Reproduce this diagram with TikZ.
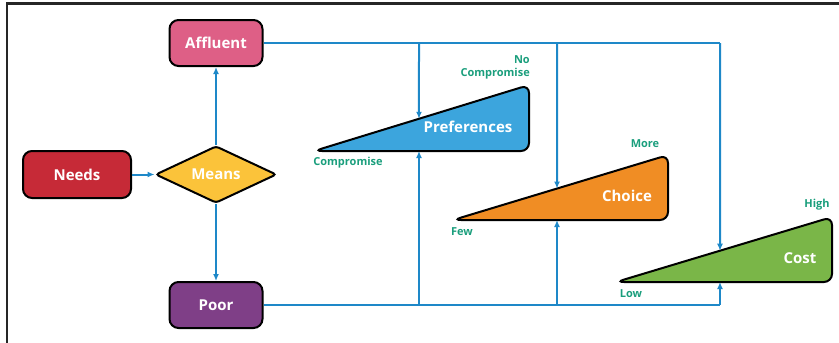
\documentclass[tikz,border=0pt]{standalone}
\usepackage{fontspec}
\setmainfont{Open Sans}
\usetikzlibrary{shapes.geometric,arrows.meta}
\definecolor{cNeeds}{HTML}{C62A37}
\definecolor{cAff}{HTML}{DE5F86}
\definecolor{cMeans}{HTML}{FBC33A}
\definecolor{cPoor}{HTML}{7F3F87}
\definecolor{cPref}{HTML}{3CA5DD}
\definecolor{cChoice}{HTML}{F08D24}
\definecolor{cCost}{HTML}{7AB648}
\definecolor{cLine}{HTML}{1E88C8}
\definecolor{cLab}{HTML}{1A9E7C}
\tikzset{
  box/.style={draw=black, line width=2pt, rounded corners=9pt, minimum width=93pt, minimum height=46pt, text=white, font=\fontsize{15}{17}\selectfont\bfseries, inner sep=0pt},
  wedge/.style={draw=black, line width=2pt, rounded corners=8pt},
  wtext/.style={text=white, font=\fontsize{15}{17}\selectfont\bfseries, inner sep=0pt},
  lab/.style={text=cLab, font=\fontsize{11}{12.5}\selectfont\bfseries, inner sep=0pt},
  conn/.style={draw=cLine, line width=2pt},
  arr/.style={conn, -{Latex[length=7pt,width=6pt]}},
}
\begin{document}
\begin{tikzpicture}[x=1pt,y=-1pt]
\useasboundingbox (0,0) rectangle (839,343);
\draw[line width=2.5pt, color=black!85] (7,343) -- (7,3.5) -- (839,3.5);
% nodes
\node[box, fill=cNeeds, minimum width=108pt, minimum height=47pt] (needs) at (77,174.5) {Needs};
\node[diamond, draw=black, line width=2pt, fill=cMeans, minimum width=121pt, minimum height=57pt, aspect=2.1, inner sep=0pt, rounded corners=3pt, text=white, font=\fontsize{15}{17}\selectfont\bfseries] (means) at (216,174.5) {Means};
\node[box, fill=cAff] (aff) at (216,43) {Affluent};
\node[box, fill=cPoor] (poor) at (216,305) {Poor};
% wedges
\coordinate (pT) at (314,151); \coordinate (pR) at (529,85); \coordinate (pB) at (529,151);
\coordinate (cT) at (453,220); \coordinate (cR) at (668,155); \coordinate (cB) at (668,220);
\coordinate (kT) at (616,282); \coordinate (kR) at (832,217); \coordinate (kB) at (832,282);
\draw[wedge, fill=cPref] (pT) -- (pR) -- (pB) -- cycle;
\draw[wedge, fill=cChoice] (cT) -- (cR) -- (cB) -- cycle;
\draw[wedge, fill=cCost] (kT) -- (kR) -- (kB) -- cycle;
\node[wtext] (prefl) at (468,127) {Preferences};
\node[wtext] (choicel) at (627,196) {Choice};
\node[wtext] (costl) at (800,258) {Cost};
% labels
\node[lab, align=right, anchor=south east] (nocomp) at (530,79) {No\\Compromise};
\node[lab] (comp) at (348,163) {Compromise};
\node[lab] (more) at (645,144) {More};
\node[lab] (few) at (462,232) {Few};
\node[lab] (high) at (817,205) {High};
\node[lab] (low) at (631,294) {Low};
% intersection coordinates
\coordinate (pTop) at (intersection of pT--pR and 419,0--419,300);
\coordinate (pBot) at (419,151);
\coordinate (cTop) at (intersection of cT--cR and 557,0--557,300);
\coordinate (cBot) at (557,220);
\coordinate (kTop) at (intersection of kT--kR and 720,0--720,300);
\coordinate (kBot) at (720,282);
\coordinate (aEnd) at (720,43);
\coordinate (bEnd) at (720,305);
% connectors
\draw[arr] (needs.east) -- (means.west);
\draw[arr] (means.north) -- (aff.south);
\draw[arr] (means.south) -- (poor.north);
\draw[conn] (aff.east) -- (aEnd);
\draw[arr] (aEnd) -- (kTop);
\draw[arr] (pBot |- aEnd) -- (pTop);
\draw[arr] (cBot |- aEnd) -- (cTop);
\draw[conn] (poor.east) -- (bEnd);
\draw[arr] (bEnd) -- (kBot);
\draw[arr] (pBot |- bEnd) -- (pBot);
\draw[arr] (cBot |- bEnd) -- (cBot);
\end{tikzpicture}
\end{document}
